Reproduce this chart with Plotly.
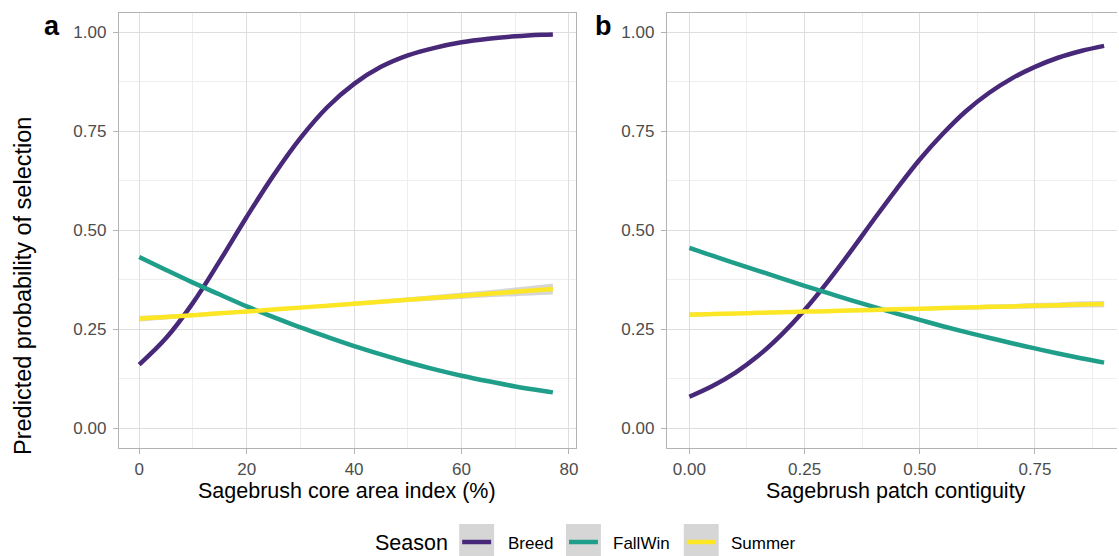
import plotly.graph_objects as go

# ---------------- data ----------------
seasons = ["Breed", "FallWin", "Summer"]
colors = {"Breed": "#482878", "FallWin": "#1F9E89", "Summer": "#FDE725"}

x_core = [0, 5, 10, 15, 20, 25, 30, 35, 40, 45, 50, 55, 60, 65, 70, 75, 77]
breed_core = [0.160, 0.227, 0.316, 0.422, 0.533, 0.638, 0.732, 0.810, 0.869, 0.912,
              0.941, 0.960, 0.974, 0.983, 0.989, 0.993, 0.994]
fallwin_core = [0.432, 0.399, 0.367, 0.337, 0.307, 0.280, 0.254, 0.230, 0.207, 0.186,
                0.166, 0.148, 0.132, 0.118, 0.105, 0.094, 0.090]
summer_core = [0.276, 0.280, 0.285, 0.290, 0.294, 0.299, 0.304, 0.309, 0.314, 0.319,
               0.324, 0.329, 0.334, 0.339, 0.344, 0.349, 0.351]
summer_core_lo = [0.269, 0.274, 0.280, 0.285, 0.290, 0.295, 0.300, 0.305, 0.309, 0.314,
                  0.318, 0.322, 0.326, 0.330, 0.333, 0.336, 0.337]
summer_core_hi = [0.283, 0.286, 0.290, 0.295, 0.298, 0.303, 0.308, 0.313, 0.319, 0.324,
                  0.330, 0.336, 0.342, 0.348, 0.355, 0.362, 0.365]

x_contig = [0.00, 0.05, 0.10, 0.15, 0.20, 0.25, 0.30, 0.35, 0.40, 0.45, 0.50, 0.55,
            0.60, 0.65, 0.70, 0.75, 0.80, 0.85, 0.90]
breed_contig = [0.079, 0.106, 0.140, 0.183, 0.236, 0.298, 0.369, 0.446, 0.526, 0.604,
                0.678, 0.743, 0.800, 0.846, 0.883, 0.912, 0.935, 0.952, 0.965]
fallwin_contig = [0.455, 0.435, 0.416, 0.397, 0.378, 0.359, 0.341, 0.323, 0.306, 0.289,
                  0.273, 0.257, 0.242, 0.228, 0.214, 0.201, 0.188, 0.176, 0.165]
summer_contig = [0.286, 0.288, 0.289, 0.291, 0.292, 0.294, 0.295, 0.297, 0.298, 0.300,
                 0.301, 0.303, 0.304, 0.306, 0.307, 0.309, 0.310, 0.312, 0.313]
summer_contig_lo = [0.280, 0.283, 0.285, 0.287, 0.288, 0.290, 0.291, 0.293, 0.294, 0.296,
                    0.297, 0.298, 0.299, 0.300, 0.301, 0.302, 0.303, 0.304, 0.305]
summer_contig_hi = [0.292, 0.293, 0.293, 0.295, 0.296, 0.298, 0.299, 0.301, 0.302, 0.304,
                    0.305, 0.308, 0.309, 0.312, 0.313, 0.316, 0.317, 0.320, 0.321]

y_ticks = [0.00, 0.25, 0.50, 0.75, 1.00]
x_core_ticks = [0, 20, 40, 60, 80]
x_contig_ticks = [0.00, 0.25, 0.50, 0.75]

panel_labels = ["a", "b"]
x_titles = ["Sagebrush core area index (%)", "Sagebrush patch contiguity"]
y_title = "Predicted probability of selection"
legend_title = "Season"

# ---------------- layout helpers ----------------
W, H = 1119, 556
FONT = "Liberation Sans, Arial, sans-serif"
def px(x):
    return x / W
def py(y):
    return 1 - y / H

fig = go.Figure()

panels = [
    ("x", "y", x_core, [breed_core, fallwin_core, summer_core], summer_core_lo, summer_core_hi),
    ("x2", "y2", x_contig, [breed_contig, fallwin_contig, summer_contig], summer_contig_lo, summer_contig_hi),
]
for xa, ya, xs, series, lo, hi in panels:
    # confidence ribbon (Summer)
    fig.add_trace(go.Scatter(x=xs, y=lo, mode="lines", line=dict(width=0, shape="spline"),
                             xaxis=xa, yaxis=ya, showlegend=False, hoverinfo="skip"))
    fig.add_trace(go.Scatter(x=xs, y=hi, mode="lines", line=dict(width=0, shape="spline"),
                             fill="tonexty", fillcolor="rgba(153,153,153,0.4)",
                             xaxis=xa, yaxis=ya, showlegend=False, hoverinfo="skip"))
    for s, vals in zip(seasons, series):
        fig.add_trace(go.Scatter(x=xs, y=vals, mode="lines", name=s,
                                 line=dict(color=colors[s], width=4.5, shape="spline"),
                                 xaxis=xa, yaxis=ya, showlegend=False))

border = "#B3B3B3"
major = "#DEDEDE"
minor = "#EEEEEE"
tickfont = dict(family=FONT, size=17, color="#4D4D4D")

ydom = [py(448), py(13)]
common_y = dict(range=[-0.0505, 1.048], tickvals=y_ticks, tickformat=".2f",
                showgrid=True, gridcolor=major, gridwidth=1,
                minor=dict(tick0=0.125, dtick=0.25, showgrid=True, gridcolor=minor, gridwidth=1),
                ticks="outside", ticklen=5, tickcolor=border, tickwidth=1,
                tickfont=tickfont, showline=True, linecolor=border, linewidth=1,
                zeroline=False, domain=ydom, ticklabelstandoff=3)

fig.update_layout(
    width=W, height=H,
    margin=dict(l=0, r=0, t=0, b=0),
    paper_bgcolor="white", plot_bgcolor="white",
    showlegend=False,
    xaxis=dict(domain=[px(119), px(577)], range=[-3.8, 81.3], tickvals=x_core_ticks,
               showgrid=True, gridcolor=major, gridwidth=1,
               minor=dict(tick0=10, dtick=20, showgrid=True, gridcolor=minor, gridwidth=1),
               ticks="outside", ticklen=5, tickcolor=border, tickwidth=1,
               tickfont=tickfont, showline=True, mirror=True, linecolor=border, linewidth=1,
               zeroline=False, anchor="y", ticklabelstandoff=1),
    yaxis=dict(common_y, anchor="x", mirror=True),
    xaxis2=dict(domain=[px(668), 1.0], range=[-0.049, 0.928], tickvals=x_contig_ticks,
                tickformat=".2f",
                showgrid=True, gridcolor=major, gridwidth=1,
                minor=dict(tick0=0.125, dtick=0.25, showgrid=True, gridcolor=minor, gridwidth=1),
                ticks="outside", ticklen=5, tickcolor=border, tickwidth=1,
                tickfont=tickfont, showline=True, mirror=True, linecolor=border, linewidth=1,
                zeroline=False, anchor="y2", ticklabelstandoff=1),
    yaxis2=dict(common_y, anchor="x2", mirror=False),
)

annotations = []
# panel labels
annotations.append(dict(text="<b>a</b>", x=px(52), y=py(26), xref="paper", yref="paper",
                        showarrow=False, font=dict(family=FONT, size=27, color="black"),
                        xanchor="center", yanchor="middle"))
annotations.append(dict(text="<b>b</b>", x=px(605), y=py(26), xref="paper", yref="paper",
                        showarrow=False, font=dict(family=FONT, size=27, color="black"),
                        xanchor="center", yanchor="middle"))
# axis titles
annotations.append(dict(text=x_titles[0], x=px(348), y=py(491), xref="paper", yref="paper",
                        showarrow=False, font=dict(family=FONT, size=21.5, color="black"),
                        xanchor="center", yanchor="middle"))
annotations.append(dict(text=x_titles[1], x=px(898), y=py(491), xref="paper", yref="paper",
                        showarrow=False, font=dict(family=FONT, size=21.5, color="black"),
                        xanchor="center", yanchor="middle"))
annotations.append(dict(text=y_title, x=px(23), y=py(286), xref="paper", yref="paper",
                        showarrow=False, textangle=-90,
                        font=dict(family=FONT, size=23.5, color="black"),
                        xanchor="center", yanchor="middle"))
# custom legend
annotations.append(dict(text=legend_title, x=px(374), y=py(543), xref="paper", yref="paper",
                        showarrow=False, font=dict(family=FONT, size=21.5, color="black"),
                        xanchor="left", yanchor="middle"))
shapes = []
box_left = [460, 567, 685]
text_left = [507, 612, 730]
for s, bl, tl in zip(seasons, box_left, text_left):
    shapes.append(dict(type="rect", xref="paper", yref="paper",
                       x0=px(bl), x1=px(bl + 35), y0=py(560), y1=py(524),
                       fillcolor="#D6D6D6", line=dict(width=0), layer="above"))
    shapes.append(dict(type="line", xref="paper", yref="paper",
                       x0=px(bl + 3), x1=px(bl + 32), y0=py(542), y1=py(542),
                       line=dict(color=colors[s], width=4.5), layer="above"))
    annotations.append(dict(text=s, x=px(tl), y=py(543), xref="paper", yref="paper",
                            showarrow=False, font=dict(family=FONT, size=17, color="black"),
                            xanchor="left", yanchor="middle"))

fig.update_layout(annotations=annotations, shapes=shapes)
fig.write_html("out.html")
